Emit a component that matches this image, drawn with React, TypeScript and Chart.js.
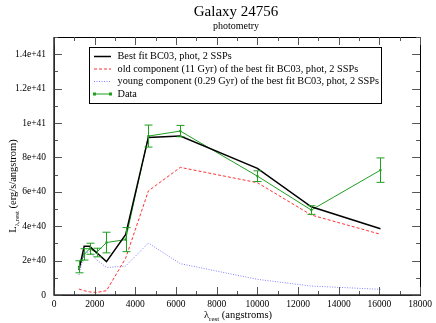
import React, { useEffect, useRef } from "react";
import { Chart, registerables } from "chart.js";

Chart.register(...registerables);

const lambdaRest = [1225, 1485, 1750, 2090, 2580, 3520, 4640, 6210, 10000, 12650, 16050];
const bestFit = [1.45e40, 2.83e40, 2.83e40, 2.47e40, 1.94e40, 3.5e40, 9.16e40, 9.24e40, 7.36e40, 5.13e40, 3.85e40];
const oldComp = [0.35e40, 0.25e40, 0.18e40, 0.15e40, 0.25e40, 2.13e40, 6.05e40, 7.42e40, 6.53e40, 4.65e40, 3.53e40];
const youngComp = [1.16e40, 2.4e40, 2.55e40, 2.05e40, 1.6e40, 1.68e40, 3.02e40, 1.82e40, 0.91e40, 0.52e40, 0.33e40];
const dataVals = [1.64e40, 2.36e40, 2.69e40, 2.47e40, 3.05e40, 3.22e40, 9.24e40, 9.53e40, 6.91e40, 4.94e40, 7.26e40];
const dataErr = [0.35e40, 0.33e40, 0.32e40, 0.25e40, 0.6e40, 0.7e40, 0.64e40, 0.33e40, 0.31e40, 0.25e40, 0.71e40];
const yTickValues = [0, 2e40, 4e40, 6e40, 8e40, 1e41, 1.2e41, 1.4e41];
const yTickLabels = ["0", "2e+40", "4e+40", "6e+40", "8e+40", "1e+41", "1.2e+41", "1.4e+41"];
const xTickValues = [0, 2000, 4000, 6000, 8000, 10000, 12000, 14000, 16000, 18000];
const legendLabels = [
  "Best fit BC03, phot, 2 SSPs",
  "old component (11 Gyr) of the best fit BC03, phot, 2 SSPs",
  "young component (0.29 Gyr) of the best fit BC03, phot, 2 SSPs",
  "Data",
];
const titleText = "Galaxy 24756";
const subtitleText = "photometry";

const SERIF = "'Liberation Serif', 'DejaVu Serif', serif";
const GREEN = "#1f9e1f";
const RED = "#ff3030";
const BLUE = "#8080ff";

const pts = (ys: number[]) => lambdaRest.map((x, i) => ({ x, y: ys[i] }));

const decorPlugin = {
  id: "decor",
  afterDatasetsDraw(chart: any) {
    const ctx = chart.ctx;
    const xs = chart.scales.x;
    const ys = chart.scales.y;
    const { left, right, top, bottom } = chart.chartArea;
    ctx.save();
    // error bars
    ctx.strokeStyle = GREEN;
    ctx.lineWidth = 1;
    lambdaRest.forEach((lx, i) => {
      const px = Math.round(xs.getPixelForValue(lx)) + 0.5;
      const p1 = ys.getPixelForValue(dataVals[i] + dataErr[i]);
      const p2 = ys.getPixelForValue(dataVals[i] - dataErr[i]);
      ctx.beginPath();
      ctx.moveTo(px, p1);
      ctx.lineTo(px, p2);
      ctx.moveTo(px - 4, p1);
      ctx.lineTo(px + 4, p1);
      ctx.moveTo(px - 4, p2);
      ctx.lineTo(px + 4, p2);
      ctx.stroke();
    });
    // frame
    ctx.strokeStyle = "#000";
    ctx.lineWidth = 1;
    ctx.strokeRect(Math.round(left) + 0.5, Math.round(top) + 0.5, Math.round(right - left), Math.round(bottom - top));
    // ticks
    ctx.strokeStyle = "#555";
    ctx.beginPath();
    for (let v = 0; v <= 18000; v += 1000) {
      const px = Math.round(xs.getPixelForValue(v)) + 0.5;
      const len = v % 2000 === 0 ? 8 : 4;
      ctx.moveTo(px, bottom);
      ctx.lineTo(px, bottom - len);
      ctx.moveTo(px, top);
      ctx.lineTo(px, top + len);
    }
    for (let k = 0; k <= 15; k++) {
      const py = Math.round(ys.getPixelForValue(k * 1e40)) + 0.5;
      const len = k % 2 === 0 ? 8 : 4;
      ctx.moveTo(left, py);
      ctx.lineTo(left + len, py);
      ctx.moveTo(right, py);
      ctx.lineTo(right - len, py);
    }
    ctx.stroke();
    ctx.strokeStyle = "#333";
    ctx.lineWidth = 1.5;
    ctx.beginPath();
    ctx.moveTo(left, top);
    ctx.lineTo(left, bottom);
    ctx.lineTo(right, bottom);
    ctx.stroke();

    // legend
    const lx = 89.5, ly = 47.5, lw = 292, lh = 56;
    ctx.fillStyle = "#fff";
    ctx.fillRect(lx, ly, lw, lh);
    ctx.strokeStyle = "#000";
    ctx.lineWidth = 1;
    ctx.strokeRect(lx, ly, lw, lh);
    const rows = [56.5, 69, 81.5, 94];
    const styles = [
      { c: "#000", d: [] as number[], w: 1.5 },
      { c: RED, d: [3, 2], w: 1 },
      { c: BLUE, d: [1, 1.5], w: 1 },
      { c: GREEN, d: [] as number[], w: 1 },
    ];
    ctx.font = `10.3px ${SERIF}`;
    ctx.textBaseline = "middle";
    ctx.textAlign = "left";
    rows.forEach((ry, i) => {
      ctx.strokeStyle = styles[i].c;
      ctx.lineWidth = styles[i].w;
      ctx.setLineDash(styles[i].d);
      ctx.beginPath();
      ctx.moveTo(94, ry);
      ctx.lineTo(111, ry);
      ctx.stroke();
      ctx.setLineDash([]);
      if (i === 3) {
        ctx.fillStyle = GREEN;
        ctx.fillRect(93, ry - 1.5, 3, 3);
        ctx.fillRect(109, ry - 1.5, 3, 3);
      }
      ctx.fillStyle = "#000";
      ctx.fillText(legendLabels[i], 117.5, ry);
    });

    // titles
    ctx.fillStyle = "#000";
    ctx.textAlign = "center";
    ctx.textBaseline = "alphabetic";
    ctx.font = `15px ${SERIF}`;
    ctx.fillText(titleText, 236, 16);
    ctx.font = `10px ${SERIF}`;
    ctx.fillText(subtitleText, 236, 29);

    // x-axis title with subscript
    const cx = 238;
    const big = `10.5px ${SERIF}`;
    const small = `7px ${SERIF}`;
    ctx.textAlign = "left";
    ctx.font = big;
    const wa = ctx.measureText("\u03bb").width;
    ctx.font = small;
    const ws = ctx.measureText("rest").width;
    ctx.font = big;
    const wr = ctx.measureText(" (angstroms)").width;
    const sx = cx - (wa + ws + wr) / 2;
    const by = 318;
    ctx.fillText("\u03bb", sx, by);
    ctx.font = small;
    ctx.fillText("rest", sx + wa, by + 3);
    ctx.font = big;
    ctx.fillText(" (angstroms)", sx + wa + ws, by);

    // y-axis title with subscript
    ctx.save();
    ctx.translate(16, 186);
    ctx.rotate(-Math.PI / 2);
    ctx.font = big;
    const w1 = ctx.measureText("L").width;
    ctx.font = small;
    const w2 = ctx.measureText("\u03bb,rest").width;
    ctx.font = big;
    const w3 = ctx.measureText(" (erg/s/angstrom)").width;
    const tx = -(w1 + w2 + w3) / 2;
    ctx.fillText("L", tx, 0);
    ctx.font = small;
    ctx.fillText("\u03bb,rest", tx + w1, 3);
    ctx.font = big;
    ctx.fillText(" (erg/s/angstrom)", tx + w1 + w2, 0);
    ctx.restore();

    ctx.restore();
  },
};

export default function App() {
  const ref = useRef<HTMLCanvasElement>(null);
  useEffect(() => {
    document.body.style.margin = "0";
    const chart = new Chart(ref.current!, {
      type: "line",
      data: {
        datasets: [
          {
            label: legendLabels[0],
            data: pts(bestFit),
            borderColor: "#000",
            borderWidth: 1.5,
            pointRadius: 0,
            tension: 0,
          },
          {
            label: legendLabels[1],
            data: pts(oldComp),
            borderColor: RED,
            borderWidth: 1,
            borderDash: [3, 2],
            pointRadius: 0,
            tension: 0,
          },
          {
            label: legendLabels[2],
            data: pts(youngComp),
            borderColor: BLUE,
            borderWidth: 1,
            borderDash: [1, 1.5],
            pointRadius: 0,
            tension: 0,
          },
          {
            label: legendLabels[3],
            data: pts(dataVals),
            borderColor: GREEN,
            backgroundColor: GREEN,
            borderWidth: 1,
            pointStyle: "rect",
            pointRadius: 1.5,
            pointBorderWidth: 0,
            tension: 0,
          },
        ],
      },
      options: {
        animation: false,
        responsive: false,
        events: [],
        layout: { padding: { top: 37, right: 14, left: 0, bottom: 0 } },
        plugins: { legend: { display: false }, title: { display: false }, tooltip: { enabled: false } },
        scales: {
          x: {
            type: "linear",
            min: 0,
            max: 18000,
            grid: { display: false, drawTicks: false, tickLength: 0 },
            border: { display: false },
            afterBuildTicks: (s: any) => {
              s.ticks = xTickValues.map((v) => ({ value: v }));
            },
            ticks: {
              padding: 4,
              color: "#000",
              maxRotation: 0,
              autoSkip: false,
              font: { family: SERIF, size: 9.5 },
              callback: (v: any) => String(v),
            },
            afterFit: (s: any) => {
              s.height = 28;
            },
          },
          y: {
            type: "linear",
            min: 0,
            max: 1.5e41,
            grid: { display: false, drawTicks: false, tickLength: 0 },
            border: { display: false },
            afterBuildTicks: (s: any) => {
              s.ticks = yTickValues.map((v) => ({ value: v }));
            },
            ticks: {
              padding: 8,
              color: "#000",
              autoSkip: false,
              font: { family: SERIF, size: 9.5 },
              callback: (v: any, i: number) => yTickLabels[i] ?? "",
            },
            afterFit: (s: any) => {
              s.width = 54;
            },
          },
        },
      },
      plugins: [decorPlugin],
    } as any);
    return () => chart.destroy();
  }, []);
  return <canvas ref={ref} width={436} height={323} style={{ display: "block" }} />;
}
